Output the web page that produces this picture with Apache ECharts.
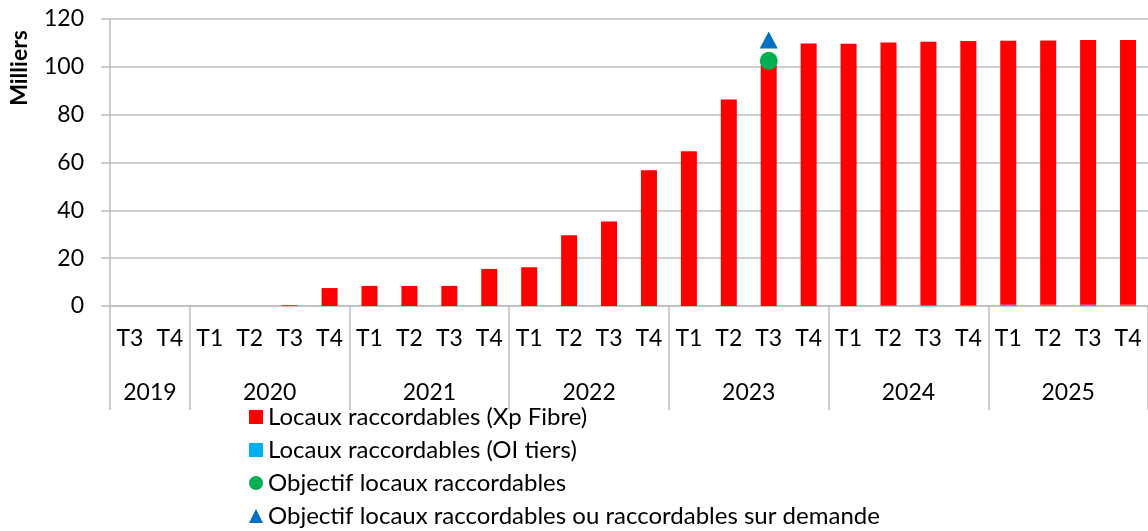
<!DOCTYPE html>
<html>
<head>
<meta charset="utf-8">
<script src="https://cdn.jsdelivr.net/npm/echarts@6/dist/echarts.min.js"></script>
<style>
  html, body { margin: 0; padding: 0; background: #fff; }
  #chart1 { width: 1148px; height: 531px; }
</style>
</head>
<body>
<div id="chart1"></div>
<script>
// trimestres et années (axe à deux niveaux)
var quarters = ['T3','T4',
  'T1','T2','T3','T4', 'T1','T2','T3','T4', 'T1','T2','T3','T4',
  'T1','T2','T3','T4', 'T1','T2','T3','T4', 'T1','T2','T3','T4'];
var years = ['2019','2020','2021','2022','2023','2024','2025'];
var yearSpans = [2, 4, 4, 4, 4, 4, 4];

// valeurs en milliers
var xpFibre = [0, 0,
  0, 0, 0.3, 7.5,
  8.4, 8.4, 8.4, 15.5,
  16.2, 29.6, 35.3, 56.8,
  64.7, 86.3, 100.8, 109.8,
  109.7, 110.0, 110.2, 110.4,
  110.4, 110.5, 110.7, 110.7];
var oiTiers = [0, 0,
  0, 0, 0, 0,
  0, 0, 0, 0,
  0, 0, 0, 0,
  0, 0, 0, 0,
  0, 0.2, 0.3, 0.4,
  0.5, 0.5, 0.5, 0.5];
var objectif = [null, null,
  null, null, null, null, null, null, null, null, null, null, null, null,
  null, null, 102.5, null,
  null, null, null, null, null, null, null, null];
var objectifDemande = [null, null,
  null, null, null, null, null, null, null, null, null, null, null, null,
  null, null, 111.2, null,
  null, null, null, null, null, null, null, null];

var grey = '#bfbfbf';
var font = 'Lato';

// bornes et milieux des années sur l'axe secondaire
var yearEdges = [0], yearMids = [];
var acc = 0;
for (var i = 0; i < yearSpans.length; i++) {
  yearMids.push(acc + yearSpans[i] / 2);
  acc += yearSpans[i];
  yearEdges.push(acc);
}

var myChart = echarts.init(document.getElementById('chart1'));

var option = {
  animation: false,
  textStyle: { fontFamily: font },
  grid: { left: 110, right: -4, top: 19, bottom: 225, containLabel: false },
  legend: {
    orient: 'vertical',
    left: 249,
    top: 405,
    height: 200,
    padding: 0,
    itemGap: 9,
    itemWidth: 14,
    itemHeight: 14,
    textStyle: { fontFamily: font, fontSize: 24, color: '#000' },
    data: [
      { name: 'Locaux raccordables (Xp Fibre)', icon: 'rect' },
      { name: 'Locaux raccordables (OI tiers)', icon: 'rect' },
      { name: 'Objectif locaux raccordables', icon: 'circle' },
      { name: 'Objectif locaux raccordables ou raccordables sur demande', icon: 'triangle' }
    ]
  },
  graphic: [{
    type: 'text',
    x: 20,
    y: 68,
    rotation: Math.PI / 2,
    style: {
      text: 'Milliers',
      fontFamily: font,
      fontSize: 23,
      fontWeight: 'bold',
      fill: '#000',
      align: 'center',
      verticalAlign: 'middle'
    }
  }],
  xAxis: [
    {
      type: 'category',
      data: quarters,
      boundaryGap: true,
      axisLine: { lineStyle: { color: grey, width: 1.5 } },
      axisTick: { length: 52, interval: 0, lineStyle: { color: grey, width: 1.5 } },
      axisLabel: { interval: 0, margin: 21, fontSize: 23, color: '#000', fontFamily: font }
    },
    {
      type: 'value',
      min: 0,
      max: quarters.length,
      position: 'bottom',
      axisLine: { show: false },
      splitLine: { show: false },
      axisTick: { show: true, length: 104, customValues: yearEdges, lineStyle: { color: grey, width: 1.5 } },
      axisLabel: {
        customValues: yearMids,
        margin: 75,
        fontSize: 23,
        color: '#000',
        fontFamily: font,
        formatter: function (v) {
          var idx = yearMids.indexOf(v);
          return idx >= 0 ? years[idx] : '';
        }
      }
    }
  ],
  yAxis: {
    type: 'value',
    min: 0,
    max: 120,
    interval: 20,
    axisLine: { show: true, lineStyle: { color: grey, width: 1.5 } },
    axisTick: { show: true, inside: false, length: 9, lineStyle: { color: grey, width: 1.5 } },
    splitLine: { lineStyle: { color: grey, width: 1.5 } },
    axisLabel: { margin: 26, fontSize: 23, color: '#000', fontFamily: font }
  },
  series: [
    {
      name: 'Locaux raccordables (OI tiers)',
      type: 'bar',
      stack: 'locaux',
      barWidth: 16,
      itemStyle: { color: '#00b0f0' },
      data: oiTiers
    },
    {
      name: 'Locaux raccordables (Xp Fibre)',
      type: 'bar',
      stack: 'locaux',
      barWidth: 16,
      itemStyle: { color: '#ff0000' },
      data: xpFibre
    },
    {
      name: 'Objectif locaux raccordables',
      type: 'scatter',
      symbol: 'circle',
      symbolSize: 18,
      itemStyle: { color: '#00b050', opacity: 1 },
      z: 4,
      data: objectif
    },
    {
      name: 'Objectif locaux raccordables ou raccordables sur demande',
      type: 'scatter',
      symbol: 'triangle',
      symbolSize: [18, 17],
      itemStyle: { color: '#0070c0', opacity: 1 },
      z: 4,
      data: objectifDemande
    }
  ]
};

myChart.setOption(option);
</script>
</body>
</html>
